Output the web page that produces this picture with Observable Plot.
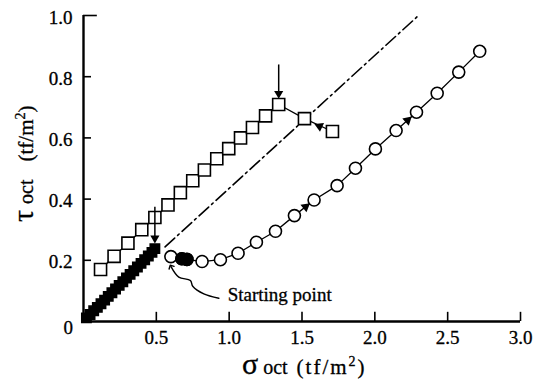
<!DOCTYPE html>
<html>
<head>
<meta charset="utf-8">
<script src="https://cdn.jsdelivr.net/npm/d3@7"></script>
<script src="https://cdn.jsdelivr.net/npm/@observablehq/plot@0.6"></script>
<style>
  html, body { margin: 0; padding: 0; background: #fff; }
  svg { display: block; }
  svg, svg text, svg tspan { font-family: "Liberation Serif", "Times New Roman", Times, "DejaVu Serif", serif !important; }
  svg text { stroke: #000; stroke-width: 0.3px; }
</style>
</head>
<body>
<div id="chart"></div>
<script>
// ---- data ----
const xTicks = [0.5, 1.0, 1.5, 2.0, 2.5, 3.0];
const yTicks = [0.2, 0.4, 0.6, 0.8, 1.0];

// open squares (loading path, peak, post-peak)
const openSqX = [0.117, 0.21, 0.305, 0.40, 0.49, 0.58, 0.665, 0.75, 0.83, 0.915, 0.997, 1.078, 1.16, 1.25, 1.34, 1.517, 1.709];
const openSqY = [0.170, 0.213, 0.256, 0.300, 0.340, 0.381, 0.421, 0.460, 0.495, 0.532, 0.565, 0.600, 0.634, 0.672, 0.709, 0.663, 0.621];

// filled squares (dense, from the origin)
const fillSqX = [0.02, 0.045, 0.07, 0.095, 0.12, 0.145, 0.17, 0.195, 0.22, 0.245, 0.27, 0.295, 0.32, 0.345, 0.37, 0.395, 0.42, 0.445, 0.47, 0.49];
const fillSqY = [0.012, 0.023, 0.035, 0.046, 0.058, 0.07, 0.082, 0.094, 0.106, 0.118, 0.13, 0.142, 0.154, 0.166, 0.178, 0.19, 0.202, 0.214, 0.226, 0.238];

// circles path (starting point onwards)
const circX = [0.60, 0.675, 0.71, 0.814, 0.94, 1.061, 1.187, 1.318, 1.448, 1.583, 1.741, 1.867, 2.004, 2.146, 2.286, 2.428, 2.576, 2.72];
const circY = [0.212, 0.205, 0.203, 0.196, 0.202, 0.223, 0.259, 0.295, 0.346, 0.397, 0.444, 0.501, 0.564, 0.624, 0.684, 0.746, 0.815, 0.883];
const filledCircX = [0.675, 0.71];
const filledCircY = [0.205, 0.203];

// dash-dot line
const dashX = [0.56, 2.3];
const dashY = [0.244, 1.0];

// direction arrowheads: position and the segment they follow
const headX = [1.525, 2.225, 1.62];
const headY = [0.375, 0.658, 0.638];
const headFromX = [1.448, 2.146, 1.709];
const headFromY = [0.346, 0.624, 0.621];
const headToX = [1.583, 2.286, 1.517];
const headToY = [0.397, 0.684, 0.663];

// vertical pointer arrows (above peak and above end of filled squares)
const vArrowX = [1.34, 0.49];
const vArrowTop = [0.84, 0.375];
const vArrowBottom = [0.745, 0.272];

// "Starting point" callout curve (from text to circle)
const callX = [0.929, 0.826, 0.750, 0.734, 0.654, 0.600];
const callY = [0.076, 0.090, 0.115, 0.134, 0.145, 0.180];
const callText = "Starting point";
const callTextX = 0.99;
const callTextY = 0.088;

// ---- layout ----
const W = 550, H = 382;
const mL = 83, mR = 30, mT = 15, mB = 61;
const font = "Liberation Serif, Times New Roman, Times, DejaVu Serif, serif";

const sx = Plot.scale({x: {domain: [0, 3], range: [mL, W - mR]}});
const sy = Plot.scale({y: {domain: [0, 1], range: [H - mB, mT]}});
const rot = (x1, y1, x2, y2) =>
  Math.atan2(sy.apply(y2) - sy.apply(y1), sx.apply(x2) - sx.apply(x1)) * 180 / Math.PI + 90;

const openSq = openSqX.map((x, i) => ({x, y: openSqY[i]}));
const fillSq = fillSqX.map((x, i) => ({x, y: fillSqY[i]}));
const circ = circX.map((x, i) => ({x, y: circY[i]}));
const fillCirc = filledCircX.map((x, i) => ({x, y: filledCircY[i]}));
const dash = dashX.map((x, i) => ({x, y: dashY[i]}));
const heads = headX.map((x, i) => ({x, y: headY[i], r: rot(headFromX[i], headFromY[i], headToX[i], headToY[i])}));
const vArrows = vArrowX.map((x, i) => ({x, y1: vArrowTop[i], y2: vArrowBottom[i]}));
const call = callX.map((x, i) => ({x, y: callY[i]}));

const chart = Plot.plot({
  width: W, height: H,
  marginLeft: mL, marginRight: mR, marginTop: mT, marginBottom: mB,
  style: {fontFamily: font, fontSize: "19px", color: "#000", background: "#fff"},
  x: {domain: [0, 3]},
  y: {domain: [0, 1]},
  marks: [
    // axes
    Plot.axisX({ticks: xTicks, tickSize: 0, tickPadding: 9, tickFormat: d => d.toFixed(1), label: null, fontSize: 19}),
    Plot.axisY({ticks: yTicks, tickSize: 0, tickPadding: 11, tickFormat: d => d.toFixed(1), label: null, fontSize: 19, dy: 2}),
    Plot.ruleX(xTicks, {x: d => d, y1: 0, y2: 0.03, stroke: "#000", strokeWidth: 1.6}),
    Plot.ruleY(yTicks, {y: d => d, x1: 0, x2: d => d === 1.0 ? 0.095 : 0.055, stroke: "#000", strokeWidth: 1.6}),
    Plot.ruleY([0], {stroke: "#000", strokeWidth: 2.4}),
    Plot.ruleX([0], {stroke: "#000", strokeWidth: 2.4}),
    Plot.text(["0"], {frameAnchor: "bottom-left", dx: -20, dy: 12, fontSize: 19}),

    // dash-dot line
    Plot.line(dash, {x: "x", y: "y", stroke: "#000", strokeWidth: 1.6, strokeDasharray: "13,4,2,4"}),

    // filled squares
    Plot.dot(fillSq, {x: "x", y: "y", symbol: "square", r: 5.3, fill: "#000", stroke: "#000"}),

    // open squares path
    Plot.line(openSq, {x: "x", y: "y", stroke: "#000", strokeWidth: 1.3}),
    Plot.dot(openSq, {x: "x", y: "y", symbol: "square", r: 6.8, fill: "#fff", stroke: "#000", strokeWidth: 1.6}),

    // circles path
    Plot.line(circ, {x: "x", y: "y", stroke: "#000", strokeWidth: 1.3}),
    Plot.dot(circ, {x: "x", y: "y", r: 6, fill: "#fff", stroke: "#000", strokeWidth: 1.6}),
    Plot.dot(fillCirc, {x: "x", y: "y", r: 6, fill: "#000", stroke: "#000", strokeWidth: 1.5}),

    // direction arrowheads
    Plot.dot(heads, {x: "x", y: "y", symbol: "triangle", r: 3.6, fill: "#000", rotate: "r"}),

    // vertical pointer arrows
    Plot.link(vArrows, {x1: "x", x2: "x", y1: "y1", y2: "y2", stroke: "#000", strokeWidth: 1.5}),
    Plot.dot(vArrows, {x: "x", y: "y2", symbol: "triangle", r: 3.4, fill: "#000", rotate: 180}),

    // starting point callout
    Plot.line(call, {x: "x", y: "y", curve: "catmull-rom", stroke: "#000", strokeWidth: 1.4, markerEnd: "arrow"}),
    Plot.text([callText], {x: callTextX, y: callTextY, text: d => d, textAnchor: "start", lineAnchor: "middle", fontSize: 19})
  ]
});

document.getElementById("chart").appendChild(chart);

// axis titles with mixed sizes
const svg = d3.select(chart);
const xl = svg.append("text")
  .attr("x", 242).attr("y", 374)
  .attr("text-anchor", "start").attr("fill", "#000");
xl.append("tspan").attr("font-size", 30).text("σ");
xl.append("tspan").attr("font-size", 20).attr("dx", 5).text("oct");
xl.append("tspan").attr("font-size", 21).attr("dx", 9).attr("letter-spacing", 2).text("(tf/m");
xl.append("tspan").attr("font-size", 14).attr("dy", -8).attr("letter-spacing", 2).text("2");
xl.append("tspan").attr("font-size", 21).attr("dy", 8).text(")");

const yl = svg.append("text")
  .attr("transform", "translate(33,222) rotate(-90)")
  .attr("text-anchor", "start").attr("fill", "#000");
yl.append("tspan").attr("font-size", 30).text("τ");
yl.append("tspan").attr("font-size", 20).attr("dx", 6).text("oct");
yl.append("tspan").attr("font-size", 21).attr("dx", 18).text("(tf/m");
yl.append("tspan").attr("font-size", 14).attr("dy", -8).text("2");
yl.append("tspan").attr("font-size", 21).attr("dy", 8).text(")");
</script>
</body>
</html>
